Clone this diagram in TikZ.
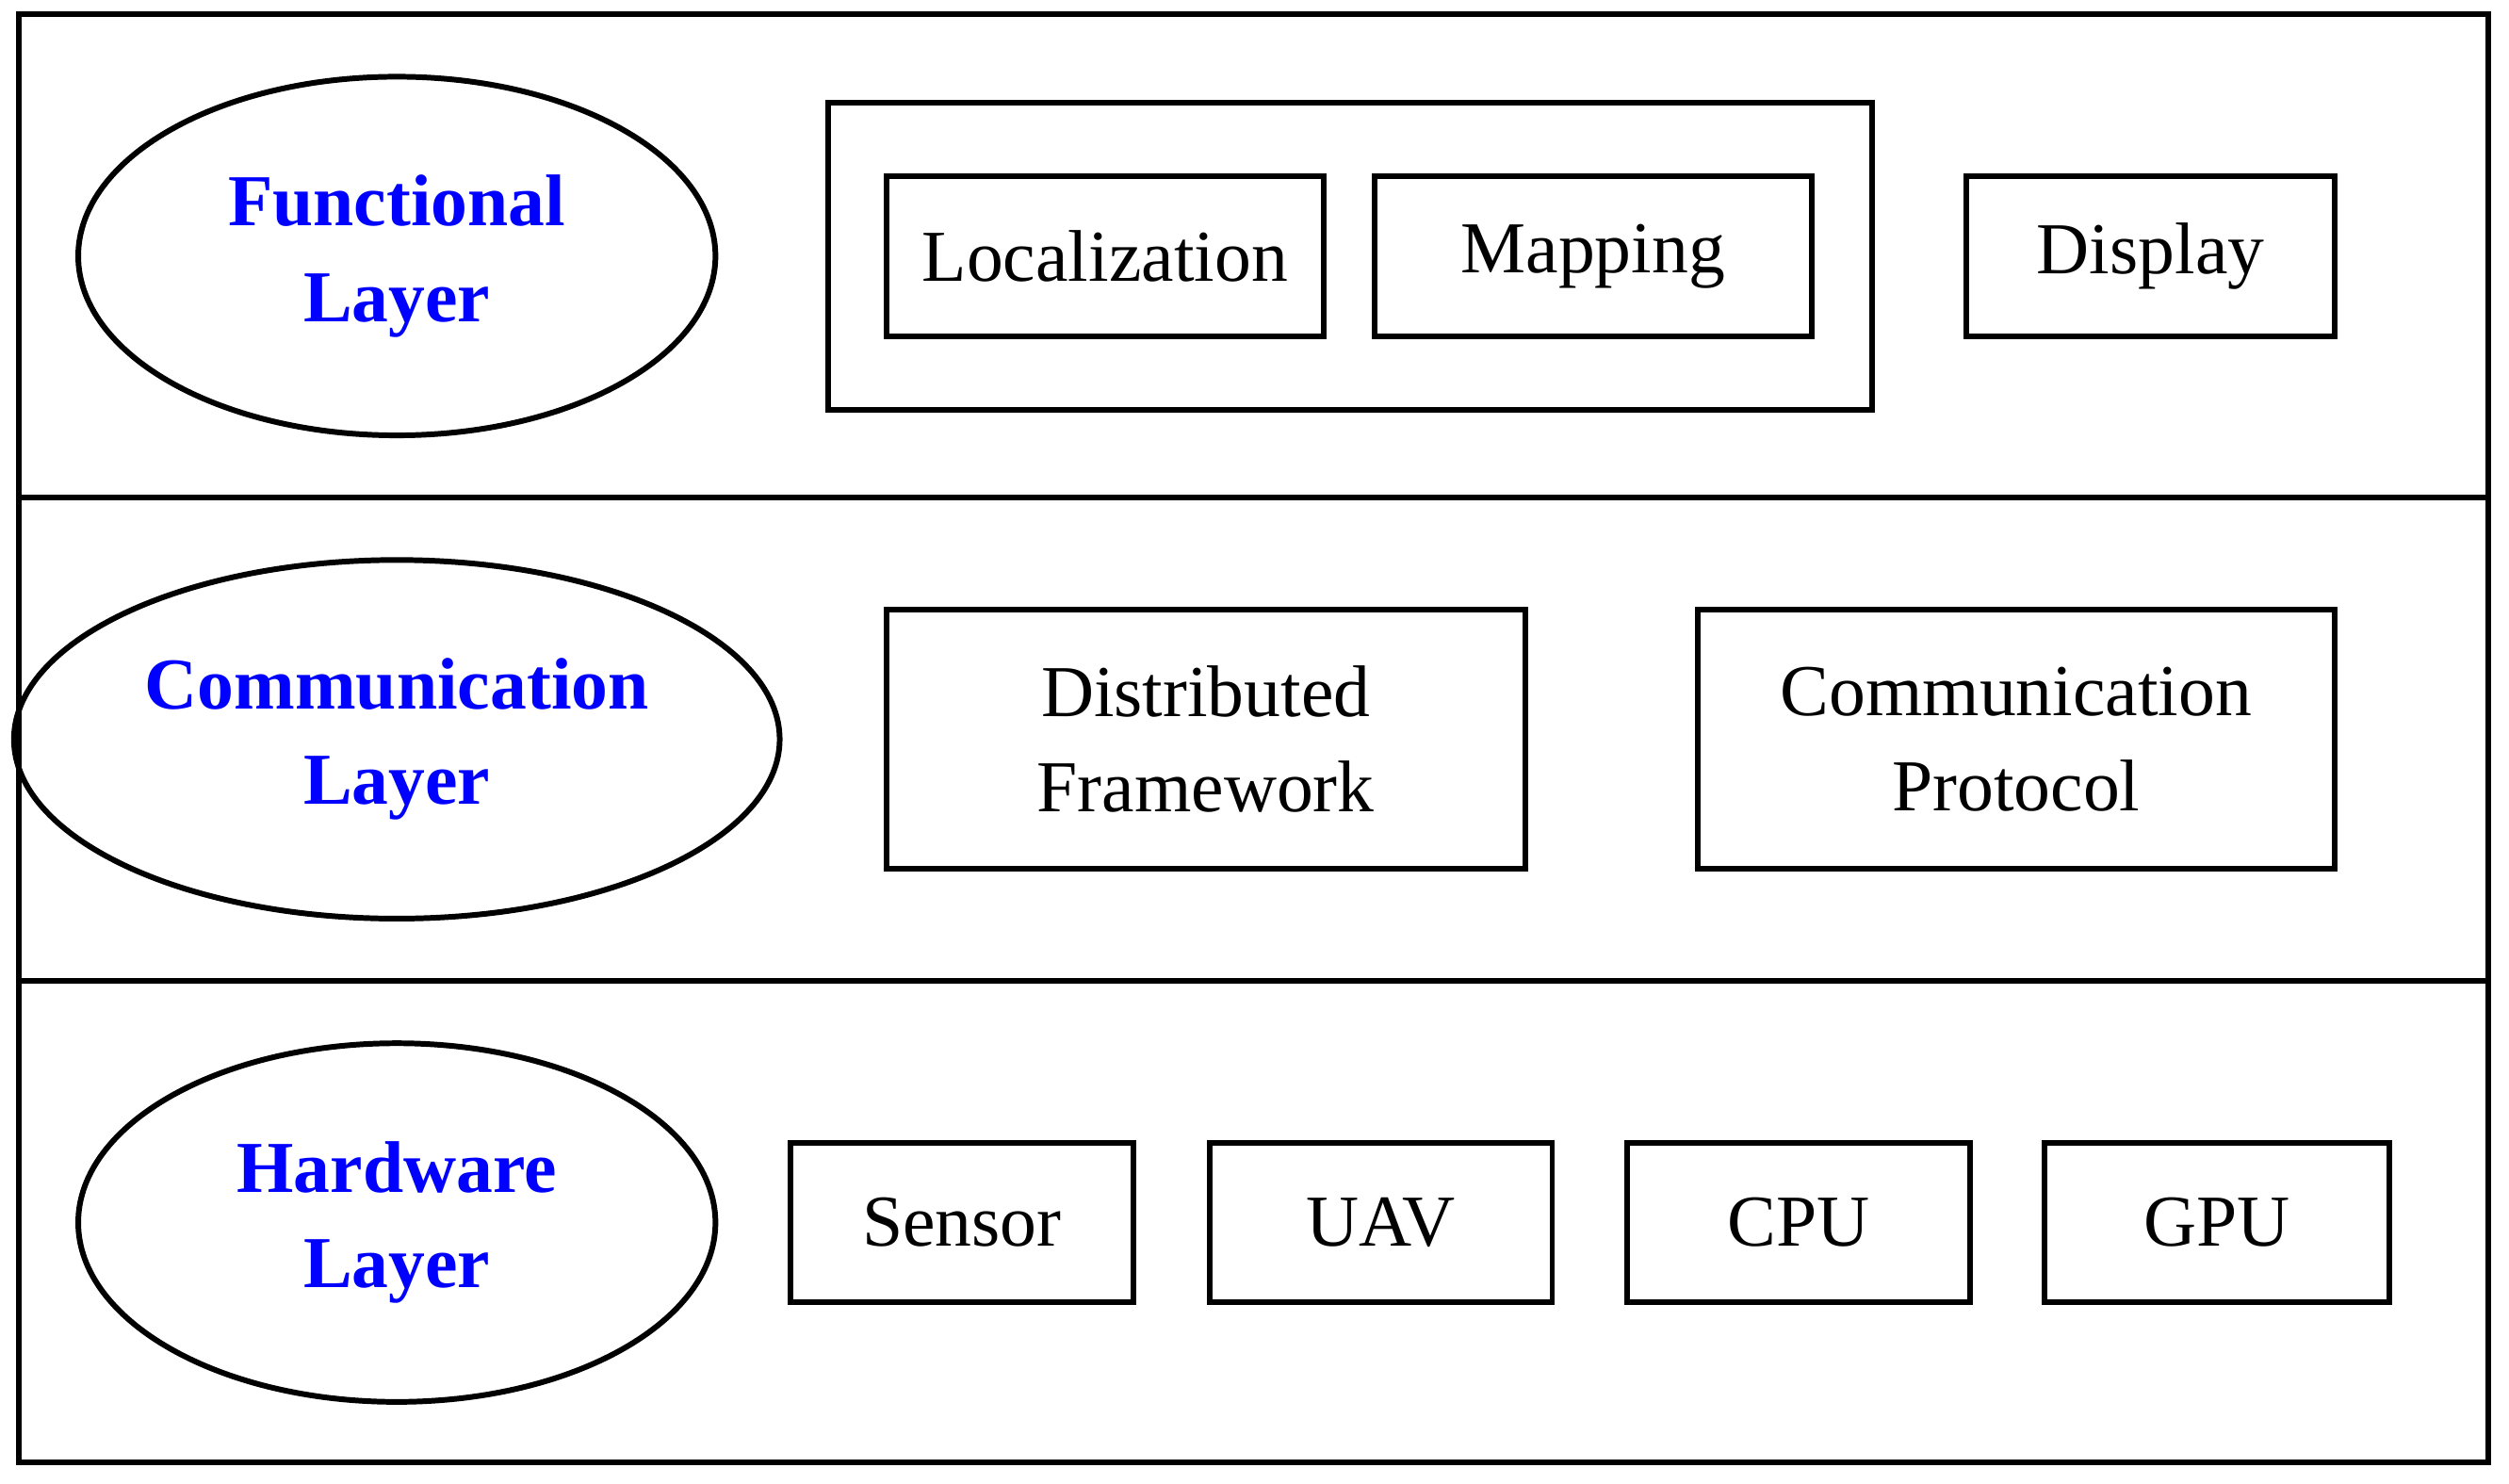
\documentclass[tikz,border=0pt]{standalone}
\usepackage{fontspec}
\setmainfont{Liberation Serif}
\usetikzlibrary{positioning,shapes.geometric}
\tikzset{
  layer/.style={ellipse, draw, line width=1pt, minimum width=3.98cm, minimum height=2.24cm,
    align=center, text=blue, font=\fontsize{13}{17}\selectfont\bfseries},
  item/.style={draw, line width=1pt, align=center, font=\fontsize{13}{17}\selectfont},
}
\begin{document}
\begin{tikzpicture}[x=0.01cm, y=-0.01cm]
  \useasboundingbox (0,0) rectangle (1568,927);
  % layers
  \draw[line width=1pt] (12,9) rectangle (1555,914);
  \draw[line width=1pt] (12,311) -- (1555,311);
  \draw[line width=1pt] (12,613) -- (1555,613);
  \node[layer] (func) at (248,160) {Functional\\Layer};
  \node[layer] (comm) at (248,462) {Communication\\Layer};
  \node[layer] (hard) at (248,764) {Hardware\\Layer};
  % functional layer
  \node[draw, line width=1pt, minimum width=6.52cm, minimum height=1.92cm] (group) at (844,160) {};
  \node[item, minimum width=2.73cm, minimum height=1cm] (loc) at (690.5,160) {Localization};
  \node[item, minimum width=2.73cm, minimum height=1cm] (map) at (995.5,160) {Mapping};
  \node[item, minimum width=2.30cm, minimum height=1cm] (disp) at (1344,160) {Display};
  % communication layer
  \node[item, minimum width=3.99cm, minimum height=1.62cm] (dist) at (753.5,462) {Distributed\\Framework};
  \node[item, minimum width=3.98cm, minimum height=1.62cm] (proto) at (1260,462) {Communication\\Protocol};
  % hardware layer
  \node[item, minimum width=2.14cm, minimum height=0.99cm] (sens) at (601,764) {Sensor};
  \node[item, minimum width=2.14cm, minimum height=0.99cm] (uav) at (863,764) {UAV};
  \node[item, minimum width=2.14cm, minimum height=0.99cm] (cpu) at (1124,764) {CPU};
  \node[item, minimum width=2.15cm, minimum height=0.99cm] (gpu) at (1385.5,764) {GPU};
\end{tikzpicture}
\end{document}
